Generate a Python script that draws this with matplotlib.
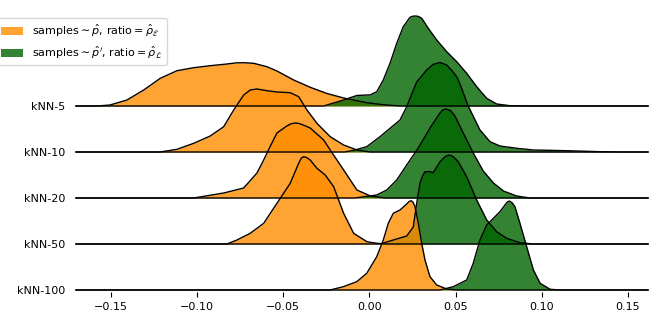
import matplotlib.pyplot as plt
from matplotlib.patches import Patch

rows = ['kNN-5', 'kNN-10', 'kNN-20', 'kNN-50', 'kNN-100']
xticks = [-0.15, -0.10, -0.05, 0.00, 0.05, 0.10, 0.15]

# curve heights (pixels above each row's baseline)
# orange: samples ~ p_hat
k5_p_x = [-0.158, -0.1506, -0.1407, -0.1310, -0.1214, -0.1117, -0.1020, -0.0924, -0.0827, -0.0770,
          -0.0730, -0.0672, -0.0595, -0.0537, -0.0440, -0.0344, -0.0247, -0.0150, -0.0016, 0.0078, 0.0177]
k5_p_h = [0, 1, 6, 16, 27.7, 35.3, 38.3, 40.3, 42, 43.2, 43.3, 42.7, 39.3, 35, 26, 18.7, 12.5, 8, 3.3, 1.3, 0]

k10_p_x = [-0.1216, -0.1117, -0.1020, -0.0924, -0.0846, -0.0788, -0.0730, -0.0692, -0.0653, -0.0595,
           -0.0537, -0.0460, -0.0411, -0.0363, -0.0305, -0.0228, -0.0150, -0.0073, 0.0003]
k10_p_h = [0, 2.7, 8.7, 16, 25.3, 42, 57, 62, 63, 61.3, 60, 59.3, 55.3, 42, 28.7, 15.3, 7, 2, 0]

k20_p_x = [-0.1020, -0.0846, -0.0730, -0.0653, -0.0614, -0.0576, -0.0537, -0.0480, -0.0455, -0.0431,
           -0.0408, -0.0385, -0.0344, -0.0266, -0.0228, -0.0150, -0.0073, 0.0005, 0.009]
k20_p_h = [0, 5, 10, 25, 38, 51.7, 65, 72, 74.2, 75, 74.5, 73, 70, 58, 48, 28, 8, 2, 0]

k50_p_x = [-0.0827, -0.0769, -0.0692, -0.0614, -0.0537, -0.0460, -0.0411, -0.0395, -0.0382, -0.0365,
           -0.0344, -0.0305, -0.0257, -0.0208, -0.0150, -0.0092, -0.0015, 0.0044, 0.009]
k50_p_h = [0, 4, 10.7, 20.7, 40.7, 60.7, 80.7, 86, 87.3, 86.5, 84, 75.7, 69, 57.3, 30.7, 10.7, 2.3, 0.7, 0]

k100_p_x = [-0.0229, -0.0152, -0.0074, -0.0016, 0.0042, 0.0080, 0.0109, 0.0138, 0.0177, 0.0216,
            0.0230, 0.0241, 0.0252, 0.0264, 0.0283, 0.0303, 0.0322, 0.0351, 0.0390, 0.0448, 0.0506]
k100_p_h = [0, 3.3, 8.3, 16.7, 33.3, 50, 66.7, 76.7, 80, 86, 88.5, 89.3, 88, 83.3, 66.7, 46.7, 30, 13.3,
            5, 1, 0]

# green: samples ~ p_hat'
k5_q_x = [-0.0266, -0.0150, -0.0074, -0.0016, 0.0003, 0.0042, 0.0080, 0.0119, 0.0158, 0.0196,
          0.0235, 0.0252, 0.0268, 0.0285, 0.0303, 0.0341, 0.0390, 0.0448, 0.0506, 0.0564,
          0.0622, 0.0680, 0.0738, 0.0815, 0.0949]
k5_q_h = [0, 6, 10.5, 11, 11, 14.3, 26, 42.7, 62.7, 79.3, 88.7, 89.8, 90, 89.5, 87.7, 77.7, 66, 54.3,
          44.3, 32.7, 19.3, 7.7, 2, 0.3, 0]

k10_q_x = [-0.0142, -0.0084, -0.0016, 0.0061, 0.0119, 0.0177, 0.0216, 0.0245, 0.0274, 0.0332,
           0.0370, 0.0409, 0.0448, 0.0480, 0.0506, 0.0525, 0.0570, 0.0641, 0.0699, 0.0757,
           0.0854, 0.0951, 0.1144, 0.1338, 0.1454]
k10_q_h = [0, 2, 5.3, 15.3, 23.7, 32, 45.3, 58, 70, 82, 87.7, 89.5, 87, 81, 75.3, 68, 47, 22, 10.3, 6,
           3.7, 2, 1.3, 0.3, 0]

k20_q_x = [-0.0084, 0.0042, 0.0100, 0.0158, 0.0216, 0.0283, 0.0351, 0.0409, 0.0425, 0.0444,
           0.0470, 0.0496, 0.0544, 0.0602, 0.0660, 0.0719, 0.0777, 0.0854, 0.093]
k20_q_h = [0, 3, 8, 18, 33, 50, 70, 85, 88, 89, 87.5, 82, 65, 45, 27, 15, 7, 2, 0]

k50_q_x = [0.0061, 0.0138, 0.0216, 0.0254, 0.0274, 0.0293, 0.0308, 0.0322, 0.0351, 0.0370,
           0.0409, 0.0440, 0.0461, 0.0485, 0.0515, 0.0564, 0.0622, 0.0680, 0.0738, 0.0796,
           0.0873, 0.0951]
k50_q_h = [0, 4, 8, 17, 41, 61, 68, 72.3, 72.3, 71.3, 82.3, 87.5, 89, 87.5, 82.3, 67.3, 44, 24, 12.3,
           5.7, 1.3, 0]

k100_q_x = [0.0409, 0.0486, 0.0564, 0.0602, 0.0641, 0.0680, 0.0719, 0.0757, 0.0786, 0.0800,
            0.0811, 0.0826, 0.0844, 0.0873, 0.0912, 0.0951, 0.0990, 0.1048, 0.1106]
k100_q_h = [0, 3.3, 10, 26.7, 50, 65, 71.7, 78.3, 85, 88, 89, 87.5, 83.3, 66.7, 43.3, 20, 6.7, 0.7, 0]

orange_curves = [(k5_p_x, k5_p_h), (k10_p_x, k10_p_h), (k20_p_x, k20_p_h),
                 (k50_p_x, k50_p_h), (k100_p_x, k100_p_h)]
green_curves = [(k5_q_x, k5_q_h), (k10_q_x, k10_q_h), (k20_q_x, k20_q_h),
                (k50_q_x, k50_q_h), (k100_q_x, k100_q_h)]

xmin, xmax = -0.1703, 0.1616
row_gap = 46

fig = plt.figure(figsize=(6.64, 3.32), dpi=100)
ax = fig.add_axes([76 / 664, 40 / 332, 572 / 664, 281 / 332])

# top row first, so lower rows sit in front
for i, name in enumerate(rows):
    base = (len(rows) - 1 - i) * row_gap
    for (cx, ch), col in [(orange_curves[i], 'darkorange'), (green_curves[i], 'darkgreen')]:
        xs = [xmin] + cx + [xmax]
        ys = [base] + [base + v for v in ch] + [base]
        ax.fill_between(xs, base, ys, color=col, alpha=0.8, lw=0)
        ax.plot(xs, ys, color='black', lw=1, solid_joinstyle='round', clip_on=False)

ax.set_xlim(xmin, xmax)
ax.set_ylim(-2, 279)
ax.set_xticks(xticks)
ax.set_yticks([(len(rows) - 1 - i) * row_gap for i in range(len(rows))])
ax.set_yticklabels(rows)
ax.tick_params(axis='y', length=0, pad=8, labelsize=8)
ax.tick_params(axis='x', labelsize=8, length=3.5, width=0.8)
for s in ax.spines.values():
    s.set_visible(False)

handles = [Patch(facecolor='darkorange', alpha=0.8),
           Patch(facecolor='darkgreen', alpha=0.8)]
labels = [r'samples$\sim\hat{p}$, ratio$=\hat{\rho}_{\mathcal{E}}$',
          r"samples$\sim\hat{p}'$, ratio$=\hat{\rho}_{\mathcal{L}}$"]
fig.legend(handles, labels, loc='upper left', bbox_to_anchor=(-3.5 / 664, 1 - 18 / 332),
           borderaxespad=0, fontsize=8)

fig.savefig('out.png', dpi=100)
